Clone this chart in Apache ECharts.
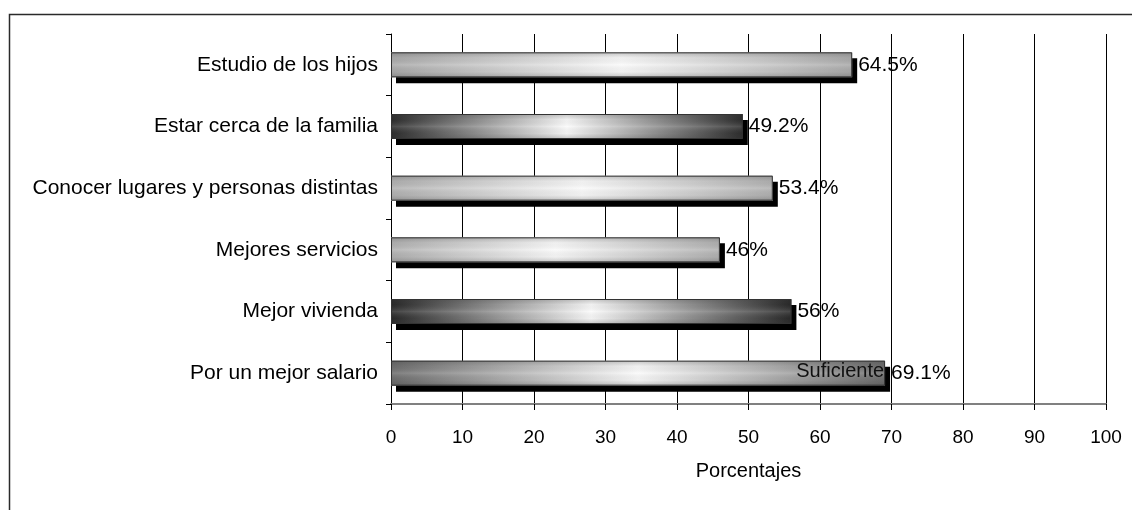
<!DOCTYPE html>
<html>
<head>
<meta charset="utf-8">
<script src="https://cdn.jsdelivr.net/npm/echarts@6/dist/echarts.min.js"></script>
<style>
html,body{margin:0;padding:0;background:#fff;}
#chart{width:1132px;height:510px;}
</style>
</head>
<body>
<div id="chart"></div>
<script>
const categories = ['Estudio de los hijos','Estar cerca de la familia','Conocer lugares y personas distintas','Mejores servicios','Mejor vivienda','Por un mejor salario'];
const values = [64.5, 49.2, 53.4, 46, 56, 69.1];
const notes = ['', '', '', '', '', 'Suficiente'];
const xTicks = [0, 10, 20, 30, 40, 50, 60, 70, 80, 90, 100];
const barShades = ['#a9a9a9', '#2b2b2b', '#b0b0b0', '#b0b0b0', '#272727', '#6c6c6c'];

const FONT = '"Liberation Sans", Arial, sans-serif';
const BAR_H = 25;

function renderBar(params, api) {
  const idx = params.dataIndex;
  const v = api.value(0);
  const cat = api.value(1);
  const p0 = api.coord([0, cat]);
  const p1 = api.coord([v, cat]);
  const x = p0[0], y = p1[1] - BAR_H / 2, w = p1[0] - p0[0];
  const edge = barShades[idx];
  const children = [
    {type: 'rect', shape: {x: x + 5, y: y + 6, width: w, height: BAR_H}, style: {fill: '#000'}},
    {type: 'rect', shape: {x: x, y: y, width: w, height: BAR_H},
      style: {fill: new echarts.graphic.LinearGradient(0, 0, 1, 0, [
        {offset: 0, color: edge}, {offset: 0.5, color: '#fafafa'}, {offset: 1, color: edge}
      ])}},
    {type: 'rect', shape: {x: x, y: y, width: w, height: BAR_H},
      style: {fill: new echarts.graphic.LinearGradient(0, 0, 0, 1, [
        {offset: 0, color: 'rgba(60,60,60,0.28)'}, {offset: 0.22, color: 'rgba(60,60,60,0.05)'},
        {offset: 0.5, color: 'rgba(255,255,255,0.15)'},
        {offset: 0.78, color: 'rgba(60,60,60,0.05)'}, {offset: 1, color: 'rgba(60,60,60,0.28)'}
      ])}},
    {type: 'rect', shape: {x: x + 0.5, y: y + 0.5, width: w - 1, height: BAR_H - 1},
      style: {fill: 'none', stroke: '#333', lineWidth: 1}},
    {type: 'text', x: p1[0] + 6, y: p1[1],
      style: {text: v + '%', fill: '#000', font: '21px ' + FONT, align: 'left', verticalAlign: 'middle'}}
  ];
  if (notes[idx]) {
    children.push({type: 'text', x: p1[0] - 1, y: p1[1] - 2,
      style: {text: notes[idx], fill: '#111', font: '20px ' + FONT, align: 'right', verticalAlign: 'middle'}});
  }
  return {type: 'group', children: children};
}

const chart = echarts.init(document.getElementById('chart'), null, {renderer: 'canvas'});
chart.setOption({
  animation: false,
  backgroundColor: '#fff',
  textStyle: {fontFamily: FONT},
  graphic: [{
    type: 'rect', left: 7, top: 12, silent: true,
    shape: {width: 1200, height: 600},
    style: {fill: 'none', stroke: '#2a2a2a', lineWidth: 1.5}
  }],
  grid: {left: 391, right: 26, top: 34, bottom: 106, containLabel: false},
  xAxis: {
    type: 'value', min: xTicks[0], max: xTicks[xTicks.length - 1], interval: xTicks[1] - xTicks[0],
    name: 'Porcentajes', nameLocation: 'middle', nameGap: 57,
    nameTextStyle: {fontFamily: FONT, fontSize: 20, color: '#000'},
    axisLine: {show: true, lineStyle: {color: '#808080', width: 2}},
    axisTick: {show: true, length: 6, lineStyle: {color: '#000', width: 1}},
    axisLabel: {fontFamily: FONT, fontSize: 19, color: '#000', margin: 24},
    splitLine: {show: true, lineStyle: {color: '#000', width: 1}}
  },
  yAxis: {
    type: 'category', data: categories, inverse: true,
    axisLine: {show: true, lineStyle: {color: '#000', width: 1}},
    axisTick: {show: true, length: 5, lineStyle: {color: '#000'}},
    axisLabel: {fontFamily: FONT, fontSize: 21, color: '#000', margin: 13},
    splitLine: {show: false}
  },
  series: [{
    type: 'custom',
    coordinateSystem: 'cartesian2d',
    renderItem: renderBar,
    encode: {x: 0, y: 1},
    data: values.map((v, i) => [v, i]),
    z: 3
  }]
});
</script>
</body>
</html>
